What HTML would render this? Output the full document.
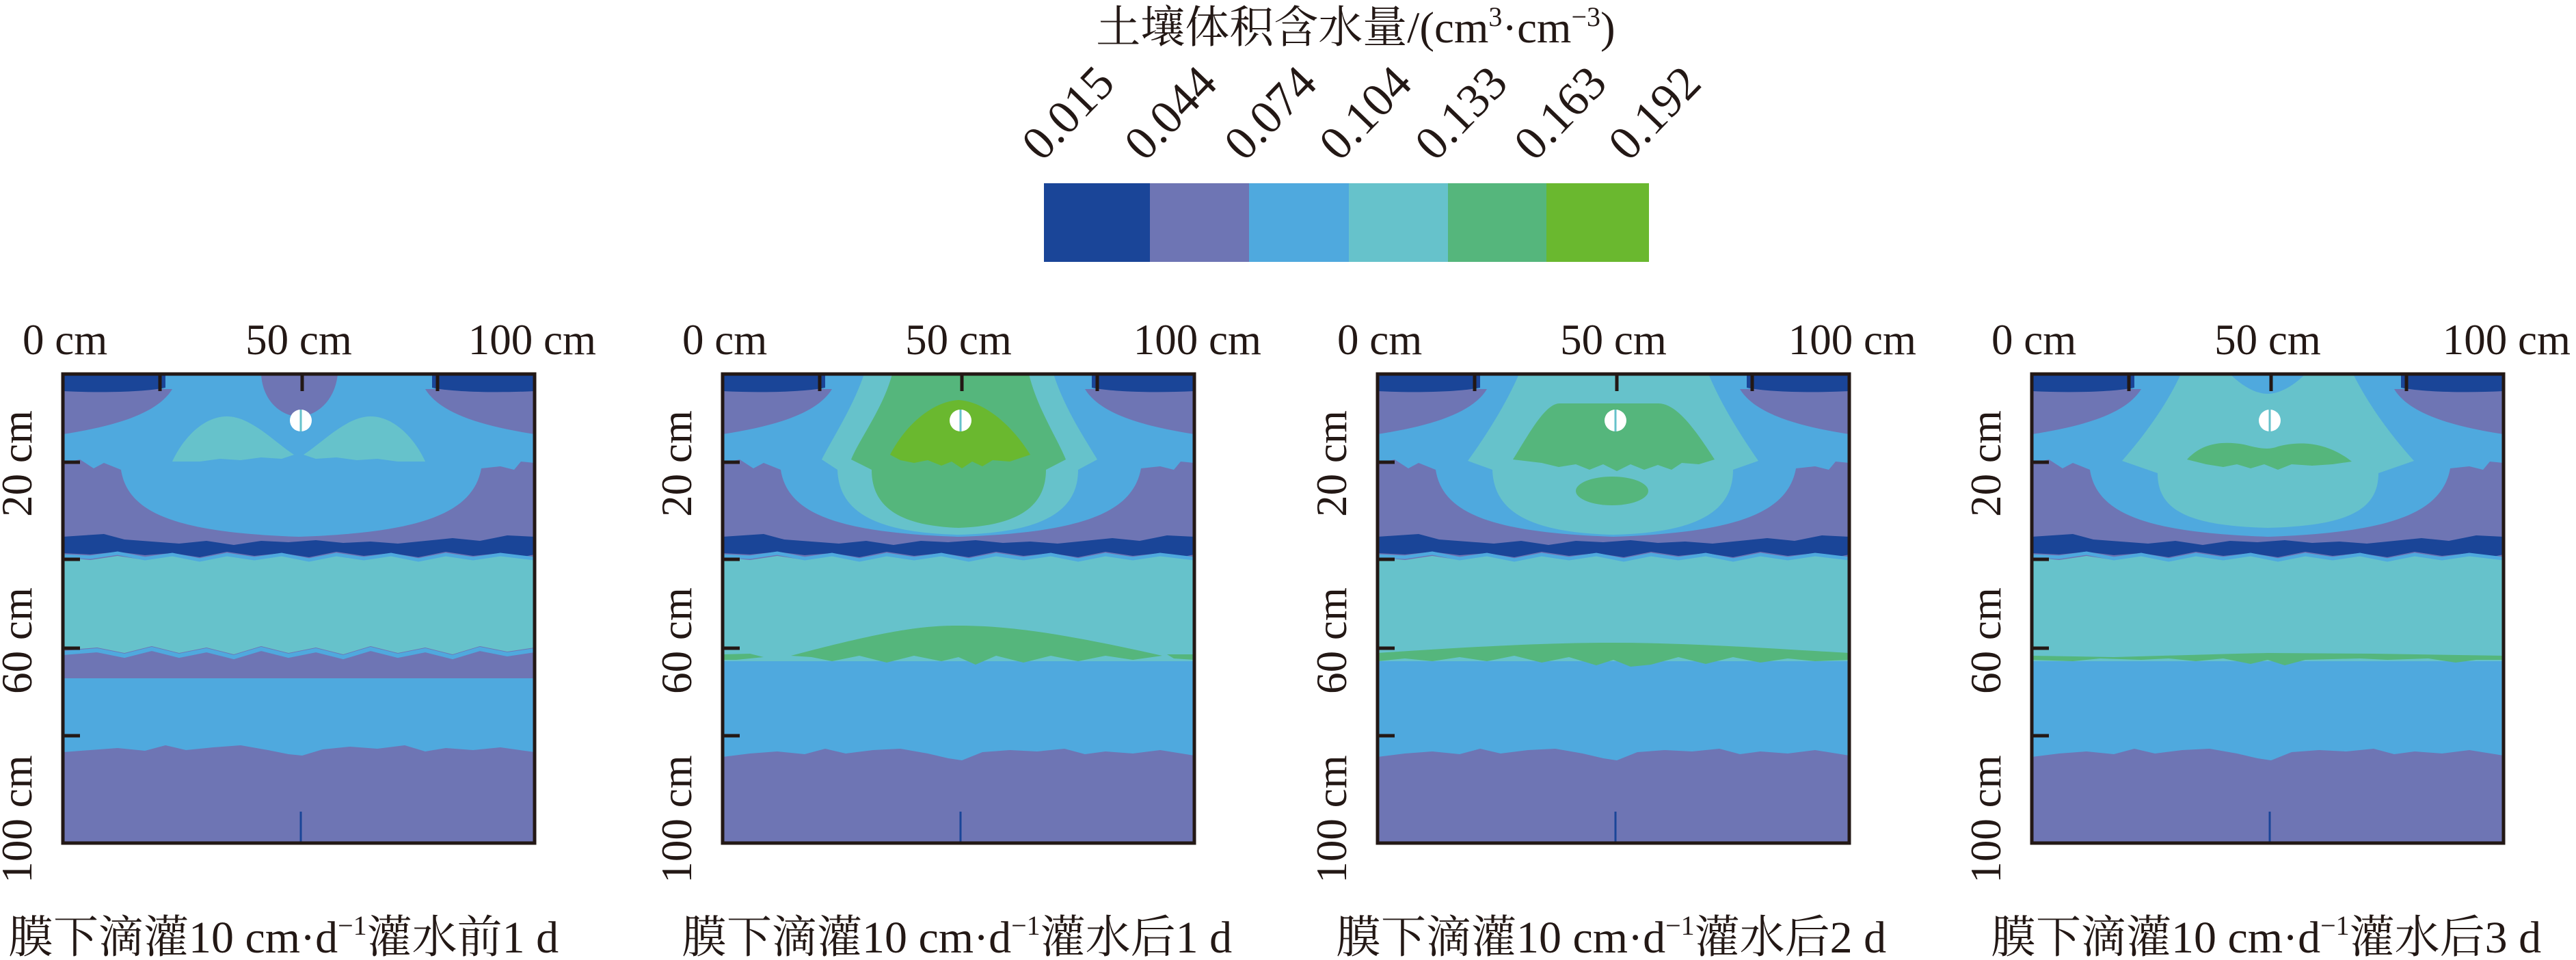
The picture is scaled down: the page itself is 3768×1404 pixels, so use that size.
<!DOCTYPE html>
<html><head><meta charset="utf-8"><style>
html,body{margin:0;padding:0;background:#fff;}
svg{display:block;}
text{font-family:"Liberation Serif","Noto Serif CJK SC",serif;fill:#231815;}
</style></head><body>
<svg width="3768" height="1404" viewBox="0 0 3768 1404" xmlns="http://www.w3.org/2000/svg">
<defs>
<g id="common">
<rect x="0" y="0" width="690" height="686" fill="#6e75b4"/>
<path d="M0,0 H690 V130 L670,128 L660,140 L640,135 L612,138 C600,205 520,232 345,238 C170,232 95,205 85,140 L60,130 L45,138 L25,125 L0,130 Z" fill="#4fa9de"/>
<path d="M0,22 H160 C140,55 85,75 0,88 Z" fill="#6e75b4"/>
<path d="M690,22 H530 C550,55 605,75 690,88 Z" fill="#6e75b4"/>
<path d="M0,0 H150 V20 C120,26 60,28 0,25 Z" fill="#1a4598"/>
<path d="M690,0 H540 V20 C570,26 630,28 690,25 Z" fill="#1a4598"/>
</g>
<g id="band">
<path d="M0,268 L40,272 L80,266 L120,272 L160,266 L200,274 L240,266 L280,272 L320,266 L360,274 L400,266 L440,272 L480,266 L520,274 L560,266 L600,272 L640,266 L690,272 V420 H0 Z" fill="#66c2cb"/>
<path d="M0,238 L30,236 L60,234 L90,242 L130,245 L170,248 L210,244 L250,250 L290,244 L330,246 L370,243 L410,247 L450,245 L490,248 L530,244 L570,240 L610,244 L650,236 L690,238 V264 L670,268 L640,262 L600,266 L560,260 L520,268 L480,262 L440,266 L400,260 L360,268 L320,262 L280,266 L240,260 L200,268 L160,262 L120,265 L80,260 L40,264 L0,262 Z" fill="#1a4598"/>
<polyline points="0,266 40,268 80,262 120,270 160,264 200,272 240,264 280,270 320,264 360,272 400,264 440,270 480,264 520,272 560,264 600,270 640,264 690,270" fill="none" stroke="#4fa9de" stroke-width="5"/>
</g>
<g id="lower">
<path d="M0,405 H690 V558 L640,550 L600,555 L560,552 L530,556 L500,548 L460,552 L420,550 L380,553 L350,565 L330,562 L300,555 L260,548 L220,550 L180,555 L150,548 L120,556 L80,552 L40,555 L0,560 Z" fill="#4fa9de"/>
</g>
<g id="drip">
<circle cx="348" cy="68" r="16" fill="#fff"/>
<line x1="348" y1="52" x2="348" y2="84" stroke="#66c2cb" stroke-width="3"/>
<line x1="348" y1="640" x2="348" y2="686" stroke="#1a4598" stroke-width="3"/>
</g>
<g id="frame">
<rect x="0" y="0" width="690" height="686" fill="none" stroke="#231815" stroke-width="5"/>
<line x1="142" y1="0" x2="142" y2="25" stroke="#231815" stroke-width="5"/>
<line x1="350" y1="0" x2="350" y2="25" stroke="#231815" stroke-width="5"/>
<line x1="548" y1="0" x2="548" y2="25" stroke="#231815" stroke-width="5"/>
<line x1="0" y1="129" x2="25" y2="129" stroke="#231815" stroke-width="5"/>
<line x1="0" y1="271" x2="25" y2="271" stroke="#231815" stroke-width="5"/>
<line x1="0" y1="401" x2="25" y2="401" stroke="#231815" stroke-width="5"/>
<line x1="0" y1="529" x2="25" y2="529" stroke="#231815" stroke-width="5"/>
</g>
</defs>

<text x="1983" y="62" font-size="65" text-anchor="middle">土壤体积含水量/(cm<tspan dy="-24" font-size="40">3</tspan><tspan dy="24">·cm</tspan><tspan dy="-24" font-size="40">−3</tspan><tspan dy="24">)</tspan></text>
<rect x="1527" y="268" width="156" height="115" fill="#1a4598"/>
<rect x="1682" y="268" width="146" height="115" fill="#6e75b4"/>
<rect x="1827" y="268" width="147" height="115" fill="#4fa9de"/>
<rect x="1973" y="268" width="146" height="115" fill="#66c2cb"/>
<rect x="2118" y="268" width="145" height="115" fill="#55b67c"/>
<rect x="2262" y="268" width="150" height="115" fill="#6ab82f"/>
<g font-size="70">
<text transform="translate(1524,238) rotate(-46)">0.015</text>
<text transform="translate(1674,238) rotate(-46)">0.044</text>
<text transform="translate(1820,238) rotate(-46)">0.074</text>
<text transform="translate(1959,238) rotate(-46)">0.104</text>
<text transform="translate(2099,238) rotate(-46)">0.133</text>
<text transform="translate(2244,238) rotate(-46)">0.163</text>
<text transform="translate(2382,238) rotate(-46)">0.192</text>
</g>

<g transform="translate(92,547)">
<use href="#common"/>
<path d="M290,0 C292,40 320,62 345,62 C370,62 398,40 402,0 Z" fill="#6e75b4"/>
<path d="M160,128 C175,95 205,62 240,62 C275,62 310,100 338,118 L320,124 L290,122 L260,126 L230,124 L200,128 Z" fill="#66c2cb"/>
<path d="M530,128 C515,95 485,62 450,62 C415,62 380,100 352,118 L370,124 L400,122 L430,126 L460,124 L490,128 Z" fill="#66c2cb"/>
<path d="M0,268 L40,272 L80,266 L120,272 L160,266 L200,274 L240,266 L280,272 L320,266 L360,274 L400,266 L440,272 L480,266 L520,274 L560,266 L600,272 L640,266 L690,272 V400 L650,406 L610,398 L570,410 L530,400 L490,408 L450,398 L410,410 L370,400 L330,408 L290,398 L250,410 L210,400 L170,408 L130,398 L90,408 L50,400 L0,404 Z" fill="#66c2cb"/>
<polyline points="0,408 50,404 90,412 130,402 170,412 210,404 250,414 290,402 330,412 370,404 410,414 450,402 490,412 530,404 570,414 610,402 650,410 690,404" fill="none" stroke="#4fa9de" stroke-width="6"/>
<path d="M0,445 H690 V553 L640,546 L600,550 L560,547 L530,552 L500,543 L460,548 L420,545 L380,549 L350,558 L330,556 L300,550 L260,543 L220,546 L180,550 L150,543 L120,551 L80,547 L40,550 L0,553 Z" fill="#4fa9de"/>
<path d="M0,238 L30,236 L60,234 L90,242 L130,245 L170,248 L210,244 L250,250 L290,244 L330,246 L370,243 L410,247 L450,245 L490,248 L530,244 L570,240 L610,244 L650,236 L690,238 V264 L670,268 L640,262 L600,266 L560,260 L520,268 L480,262 L440,266 L400,260 L360,268 L320,262 L280,266 L240,260 L200,268 L160,262 L120,265 L80,260 L40,264 L0,262 Z" fill="#1a4598"/>
<polyline points="0,266 40,268 80,262 120,270 160,264 200,272 240,264 280,270 320,264 360,272 400,264 440,270 480,264 520,272 560,264 600,270 640,264 690,270" fill="none" stroke="#4fa9de" stroke-width="5"/>
<use href="#drip"/>
<use href="#frame"/>
</g>

<g transform="translate(1057,547)">
<use href="#common"/>
<path d="M207,0 H484 C500,50 530,95 548,125 L520,140 C520,200 470,232 345,235 C220,232 170,200 168,140 L145,125 C160,95 190,50 207,0 Z" fill="#66c2cb"/>
<path d="M248,0 H448 C460,50 490,95 502,125 L473,140 C473,195 430,222 345,225 C260,222 218,195 218,140 L188,125 C200,95 235,50 248,0 Z" fill="#55b67c"/>
<path d="M245,118 C270,70 310,40 345,38 C380,40 420,70 450,118 L420,128 L395,126 L380,135 L365,128 L350,138 L335,128 L320,134 L300,126 L280,130 L260,126 Z" fill="#6ab82f"/>
<use href="#lower"/>
<use href="#band"/>
<path d="M100,412 C250,372 300,368 345,368 C420,368 500,380 643,412 L600,418 L560,412 L520,420 L480,412 L440,422 L400,412 L370,425 L345,414 L320,420 L280,412 L240,422 L200,412 L160,420 L130,414 Z" fill="#55b67c"/>
<path d="M0,410 L40,409 L60,414 L20,418 L0,418 Z M650,410 L690,410 V418 L660,416 Z" fill="#55b67c"/>
<use href="#drip"/>
<use href="#frame"/>
</g>

<g transform="translate(2015,547)">
<use href="#common"/>
<path d="M207,0 H484 C505,50 535,95 557,127 L520,140 C520,200 470,232 345,235 C220,232 170,200 168,140 L132,127 C155,95 185,50 207,0 Z" fill="#66c2cb"/>
<path d="M266,43 H411 C440,43 470,90 493,125 L470,132 L445,130 L430,140 L410,133 L390,140 L370,132 L350,142 L330,132 L310,140 L290,132 L265,136 L240,130 L198,125 C220,90 245,43 266,43 Z" fill="#55b67c"/>
<ellipse cx="343" cy="171" rx="53" ry="21" fill="#55b67c"/>
<use href="#lower"/>
<use href="#band"/>
<path d="M0,408 C150,398 250,393 345,393 C450,393 550,400 690,408 V418 L640,420 L600,416 L560,422 L520,414 L480,424 L440,414 L400,425 L370,428 L345,418 L320,426 L280,414 L240,422 L200,412 L160,420 L120,414 L80,420 L40,416 L0,420 Z" fill="#55b67c"/>
<use href="#drip"/>
<use href="#frame"/>
</g>

<g transform="translate(2972,547)">
<use href="#common"/>
<path d="M218,0 H290 C310,20 330,29 345,29 C360,29 380,20 400,0 H470 C495,50 530,95 559,127 L507,145 C507,200 460,222 345,225 C230,222 184,200 184,145 L132,127 C160,95 195,50 218,0 Z" fill="#66c2cb"/>
<path d="M227,125 C250,100 280,98 310,103 C330,108 345,112 360,106 C390,98 430,98 468,128 L440,132 L410,134 L380,132 L360,140 L340,132 L320,138 L300,132 L280,136 L255,132 Z" fill="#55b67c"/>
<use href="#lower"/>
<use href="#band"/>
<path d="M0,412 L120,414 L300,409 L345,408 L500,409 L690,412 V418 L650,418 L620,422 L580,416 L520,418 L480,416 L400,418 L370,426 L345,418 L320,424 L280,416 L240,420 L200,416 L160,418 L100,416 L60,420 L0,418 Z" fill="#55b67c"/>
<use href="#drip"/>
<use href="#frame"/>
</g>

<g font-size="63">
<text x="33" y="518">0 cm</text><text x="437" y="518" text-anchor="middle">50 cm</text><text x="872" y="518" text-anchor="end">100 cm</text>
<text x="998" y="518">0 cm</text><text x="1402" y="518" text-anchor="middle">50 cm</text><text x="1845" y="518" text-anchor="end">100 cm</text>
<text x="1956" y="518">0 cm</text><text x="2360" y="518" text-anchor="middle">50 cm</text><text x="2803" y="518" text-anchor="end">100 cm</text>
<text x="2913" y="518">0 cm</text><text x="3317" y="518" text-anchor="middle">50 cm</text><text x="3760" y="518" text-anchor="end">100 cm</text>

<text transform="translate(46,678) rotate(-90)" text-anchor="middle">20 cm</text>
<text transform="translate(46,937) rotate(-90)" text-anchor="middle">60 cm</text>
<text transform="translate(46,1198) rotate(-90)" text-anchor="middle">100 cm</text>
<text transform="translate(1011,678) rotate(-90)" text-anchor="middle">20 cm</text>
<text transform="translate(1011,937) rotate(-90)" text-anchor="middle">60 cm</text>
<text transform="translate(1011,1198) rotate(-90)" text-anchor="middle">100 cm</text>
<text transform="translate(1969,678) rotate(-90)" text-anchor="middle">20 cm</text>
<text transform="translate(1969,937) rotate(-90)" text-anchor="middle">60 cm</text>
<text transform="translate(1969,1198) rotate(-90)" text-anchor="middle">100 cm</text>
<text transform="translate(2926,678) rotate(-90)" text-anchor="middle">20 cm</text>
<text transform="translate(2926,937) rotate(-90)" text-anchor="middle">60 cm</text>
<text transform="translate(2926,1198) rotate(-90)" text-anchor="middle">100 cm</text>
</g>

<g font-size="66">
<text x="12" y="1393">膜下滴灌10 cm·d<tspan dy="-26" font-size="40">−1</tspan><tspan dy="26">灌水前1 d</tspan></text>
<text x="997" y="1393">膜下滴灌10 cm·d<tspan dy="-26" font-size="40">−1</tspan><tspan dy="26">灌水后1 d</tspan></text>
<text x="1954" y="1393">膜下滴灌10 cm·d<tspan dy="-26" font-size="40">−1</tspan><tspan dy="26">灌水后2 d</tspan></text>
<text x="2912" y="1393">膜下滴灌10 cm·d<tspan dy="-26" font-size="40">−1</tspan><tspan dy="26">灌水后3 d</tspan></text>
</g>
</svg>
</body></html>
